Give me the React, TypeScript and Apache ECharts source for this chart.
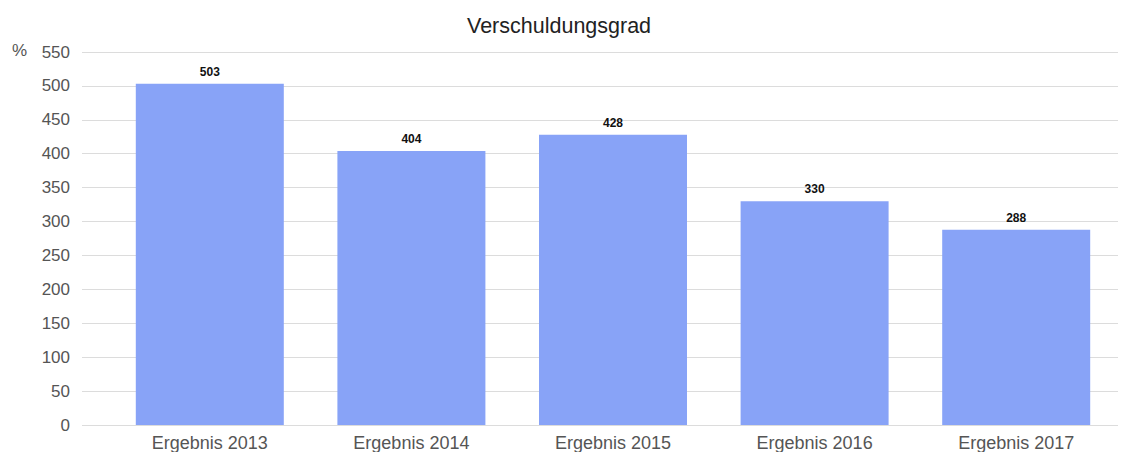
import React, { useEffect, useRef } from "react";
import * as echarts from "echarts";

const categories = ["Ergebnis 2013", "Ergebnis 2014", "Ergebnis 2015", "Ergebnis 2016", "Ergebnis 2017"];
const values = [503, 404, 428, 330, 288];
const yMin = 0;
const yMax = 550;
const yStep = 50;

export default function App() {
  const ref = useRef<HTMLDivElement>(null);
  useEffect(() => {
    document.body.style.margin = "0";
    if (!ref.current) return;
    const chart = echarts.init(ref.current, null, { renderer: "svg" });
    const font = "'Liberation Sans', Arial, sans-serif";
    chart.setOption({
      animation: false,
      backgroundColor: "#ffffff",
      textStyle: { fontFamily: font },
      title: {
        text: "Verschuldungsgrad",
        left: 462,
        top: 10,
        textStyle: { fontSize: 21.5, fontWeight: "normal", color: "#222", fontFamily: font },
      },
      graphic: [
        {
          type: "text",
          left: 12,
          top: 42,
          style: { text: "%", fontSize: 17, fill: "#555", fontFamily: font },
        },
      ],
      grid: [
        { left: 82, right: 13, top: 52, bottom: 27 },
        { left: 109, right: 14, top: 52, bottom: 27 },
      ],
      xAxis: [
        { type: "category", gridIndex: 0, data: categories, show: false },
        {
          type: "category",
          gridIndex: 1,
          data: categories,
          axisLine: { show: false },
          axisTick: { show: false },
          axisLabel: { color: "#555", fontSize: 18, margin: 9, fontFamily: font },
        },
      ],
      yAxis: [
        {
          type: "value",
          gridIndex: 0,
          min: yMin,
          max: yMax,
          interval: yStep,
          axisLine: { show: false },
          axisTick: { show: false },
          axisLabel: { color: "#555", fontSize: 17, margin: 12, fontFamily: font },
          splitLine: { lineStyle: { color: "#dcdcdc", width: 1 } },
        },
        {
          type: "value",
          gridIndex: 1,
          min: yMin,
          max: yMax,
          interval: yStep,
          show: false,
          splitLine: { show: false },
        },
      ],
      series: [
        {
          type: "bar",
          xAxisIndex: 1,
          yAxisIndex: 1,
          data: values,
          barWidth: 148,
          itemStyle: { color: "#88a3f7" },
          label: {
            show: true,
            position: "top",
            distance: 6,
            color: "#111",
            fontSize: 12,
            fontWeight: "bold",
            fontFamily: font,
          },
        },
      ],
    });
    return () => chart.dispose();
  }, []);
  return <div ref={ref} style={{ width: 1131, height: 452 }} />;
}
